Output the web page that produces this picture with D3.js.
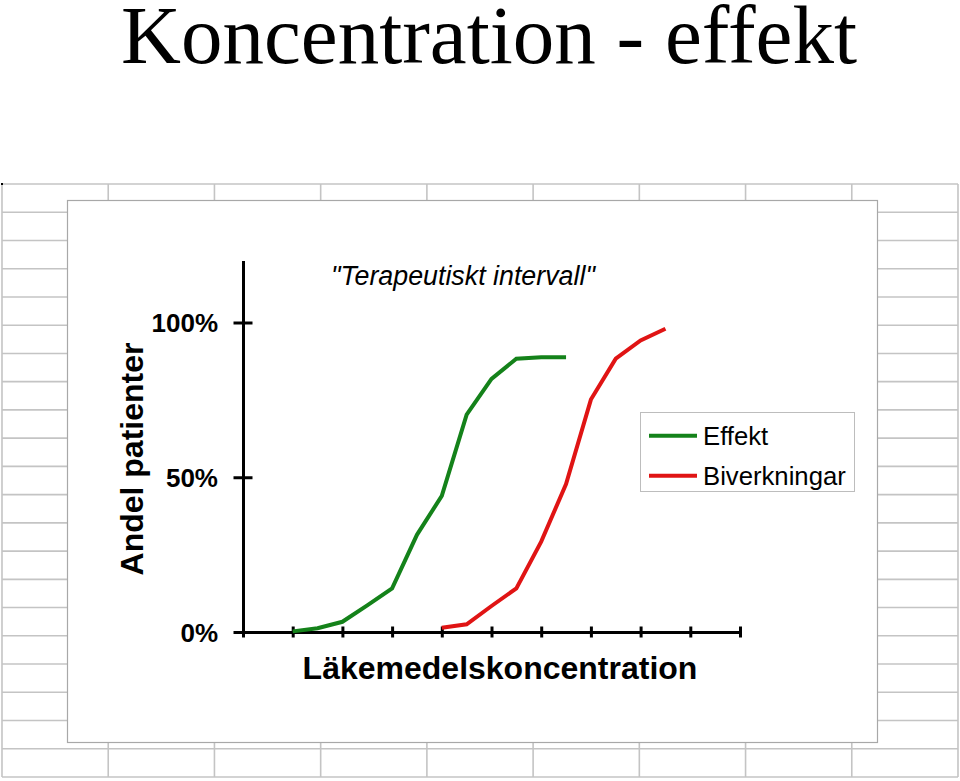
<!DOCTYPE html>
<html>
<head>
<meta charset="utf-8">
<script src="https://cdn.jsdelivr.net/npm/d3@7"></script>
<style>
  html, body { margin: 0; padding: 0; background: #fff; }
  svg { display: block; }
  text { font-family: "Liberation Sans", Arial, Helvetica, sans-serif; fill: #000; }
</style>
</head>
<body>
<svg id="chart" width="960" height="781"></svg>
<script>
// ---- data ----
const title = "Koncentration - effekt";
const annotation = "\"Terapeutiskt intervall\"";
const yTitle = "Andel patienter";
const xTitle = "Läkemedelskoncentration";
const seriesNames = ["Effekt", "Biverkningar"];
const seriesColors = ["#14821a", "#e01414"];
const xTicks = [0, 1, 2, 3, 4, 5, 6, 7, 8, 9, 10];
const yTicks = [0, 50, 100];
const yTickLabels = ["0%", "50%", "100%"];
const effektX = [1, 1.5, 2, 2.5, 3, 3.5, 4, 4.5, 5, 5.5, 6, 6.5];
const effektY = [0.2, 1.2, 3.3, 8.6, 14.1, 31.4, 44.0, 70.2, 81.8, 88.3, 88.8, 88.8];
const bivX = [4, 4.5, 5, 5.5, 6, 6.5, 7, 7.5, 8, 8.5];
const bivY = [1.4, 2.5, 8.4, 14.1, 29.2, 47.8, 75.1, 88.3, 94.2, 98.0];

const svg = d3.select("#chart");

// ---- spreadsheet background grid ----
const gx0 = 2, gx1 = 958, gy0 = 184, gy1 = 777;
const nCols = 9, nRows = 21;
const colW = (gx1 - gx0) / nCols, rowH = (gy1 - gy0) / nRows;
const grid = svg.append("g").attr("stroke", "#c4c4c4").attr("stroke-width", 1.6).attr("fill", "none");
grid.selectAll("line.r").data(d3.range(nRows + 1)).join("line")
  .attr("x1", gx0).attr("x2", gx1)
  .attr("y1", i => gy0 + i * rowH).attr("y2", i => gy0 + i * rowH);
grid.selectAll("line.c").data(d3.range(nCols + 1)).join("line")
  .attr("y1", gy0).attr("y2", gy1)
  .attr("x1", i => gx0 + i * colW).attr("x2", i => gx0 + i * colW);
svg.append("rect").attr("x", 1).attr("y", 183).attr("width", 2).attr("height", 2).attr("fill", "#000");

// chart area
svg.append("rect").attr("x", 67.5).attr("y", 200.5).attr("width", 810).attr("height", 542)
  .attr("fill", "#fff").attr("stroke", "#a8a8a8").attr("stroke-width", 1.2);

// ---- title ----
svg.append("text").attr("x", 489).attr("y", 63).attr("text-anchor", "middle")
  .style("font-family", "'Liberation Serif', 'Times New Roman', serif")
  .style("font-size", "83px").text(title);

// ---- scales ----
const x = d3.scaleLinear().domain([0, 10]).range([243, 740]);
const y = d3.scaleLinear().domain([0, 120]).range([632, 260.6]);

// ---- axes ----
const xAxis = svg.append("g").attr("transform", `translate(0,${y(0)})`)
  .call(d3.axisBottom(x).tickValues(xTicks).tickSizeOuter(0).tickFormat(""));
xAxis.select(".domain").attr("stroke", "#000").attr("stroke-width", 3);
xAxis.selectAll(".tick line").attr("y1", -5.5).attr("y2", 5.5).attr("stroke", "#000").attr("stroke-width", 3);

const yAxis = svg.append("g").attr("transform", `translate(${x(0)},0)`)
  .call(d3.axisLeft(y).tickValues(yTicks).tickSizeOuter(0)
    .tickFormat((d, i) => yTickLabels[i]));
yAxis.select(".domain").attr("stroke", "#000").attr("stroke-width", 3);
yAxis.selectAll(".tick line").attr("x1", -9.5).attr("x2", 9.5).attr("stroke", "#000").attr("stroke-width", 3);
yAxis.selectAll(".tick text").attr("x", -25).attr("dy", "0.36em")
  .style("font-size", "26px").style("font-weight", "bold")
  .style("font-family", "'Liberation Sans', Arial, sans-serif").attr("fill", "#000");

// ---- axis titles ----
svg.append("text").attr("transform", "translate(143,459) rotate(-90)")
  .attr("text-anchor", "middle").style("font-size", "32px").style("font-weight", "bold").text(yTitle);
svg.append("text").attr("x", 500).attr("y", 679).attr("text-anchor", "middle")
  .style("font-size", "32px").style("font-weight", "bold").text(xTitle);

// annotation
svg.append("text").attr("x", 463).attr("y", 285).attr("text-anchor", "middle")
  .style("font-size", "26.8px").style("font-style", "italic").text(annotation);

// ---- lines ----
const line = d3.line().x(d => x(d[0])).y(d => y(d[1]));
const series = [d3.zip(effektX, effektY), d3.zip(bivX, bivY)];
svg.selectAll("path.series").data(series).join("path")
  .attr("class", "series")
  .attr("d", line)
  .attr("fill", "none")
  .attr("stroke", (d, i) => seriesColors[i])
  .attr("stroke-width", 4)
  .attr("stroke-linejoin", "miter");

// ---- legend ----
const lg = svg.append("g");
lg.append("rect").attr("x", 640.5).attr("y", 412.5).attr("width", 214).attr("height", 79)
  .attr("fill", "#fff").attr("stroke", "#bdbdbd").attr("stroke-width", 1);
const items = lg.selectAll("g.item").data(seriesNames).join("g")
  .attr("transform", (d, i) => `translate(0,${435.7 + i * 40})`);
items.append("line").attr("x1", 649).attr("x2", 697).attr("y1", 0).attr("y2", 0)
  .attr("stroke", (d, i) => seriesColors[i]).attr("stroke-width", 4);
items.append("text").attr("x", 703).attr("y", 0).attr("dy", "0.36em")
  .style("font-size", "25.7px").text(d => d);
</script>
</body>
</html>
